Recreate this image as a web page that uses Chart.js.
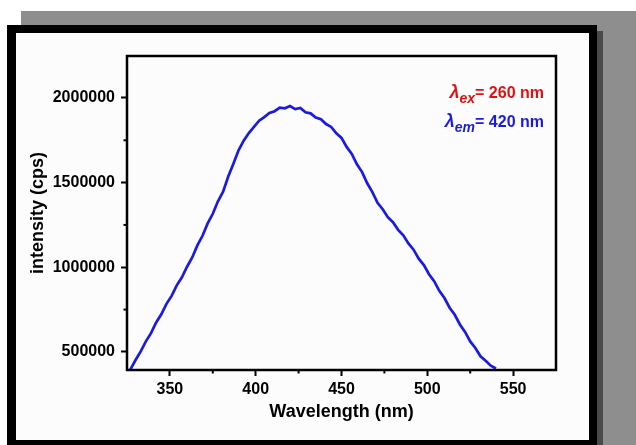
<!DOCTYPE html>
<html>
<head>
<meta charset="utf-8">
<script src="https://cdn.jsdelivr.net/npm/chart.js@4.4.1/dist/chart.umd.min.js"></script>
<style>
  body { margin: 0; background: #fff; }
  #wrap { position: relative; width: 636px; height: 445px; overflow: hidden; }
  .bg { position: absolute; left: 21px; top: 11px; width: 615px; height: 434px; background: #8e8e8e; }
  .shadow { position: absolute; left: 597px; top: 31px; width: 6px; height: 414px; background: #4a4a4a; }
  .frame { position: absolute; left: 7px; top: 25px; width: 573px; height: 407px; border: 8px solid #000; border-left-width: 9px; border-top-width: 8px; background: #fcfcfc; }
  canvas { position: absolute; left: 0; top: 0; }
</style>
</head>
<body>
<div id="wrap">
  <div class="bg"></div>
  <div class="shadow"></div>
  <div class="frame"></div>
  <canvas id="chart" width="636" height="445"></canvas>
</div>
<script>
// emission spectrum
const wavelengths = [327, 330, 333, 336, 339, 342, 345, 348, 351, 354, 357, 360,
    363, 366, 369, 372, 375, 378, 381, 384, 387, 390, 393, 396, 399, 402, 405, 408,
    411, 414, 417, 420, 423, 426, 429, 432, 435, 438, 441, 444, 447, 450, 453, 456,
    459, 462, 465, 468, 471, 474, 477, 480, 483, 486, 489, 492, 495, 498, 501, 504,
    507, 510, 513, 516, 519, 522, 525, 528, 531, 534, 537, 540];
const intensity = [397000, 452000, 503000, 562000, 611000, 674000, 722000, 784000, 831000, 893000, 941000, 1003000,
    1058000, 1129000, 1186000, 1259000, 1316000, 1390000, 1446000, 1536000, 1612000, 1691000, 1748000, 1793000,
    1829000, 1866000, 1887000, 1911000, 1922000, 1943000, 1939000, 1952000, 1934000, 1941000, 1915000, 1909000,
    1884000, 1874000, 1846000, 1829000, 1791000, 1764000, 1711000, 1669000, 1608000, 1562000, 1496000, 1444000,
    1381000, 1343000, 1296000, 1266000, 1221000, 1189000, 1141000, 1104000, 1051000, 1013000, 959000, 918000,
    861000, 818000, 761000, 719000, 662000, 618000, 562000, 523000, 474000, 448000, 418000, 402000];

const xTicks = [350, 400, 450, 500, 550];
const xMinor = [375, 425, 475, 525];
const yTicks = [500000, 1000000, 1500000, 2000000];
const yMinor = [750000, 1250000, 1750000];

const fontFamily = '"Liberation Sans", Arial, sans-serif';

const points = wavelengths.map(function(w, i) { return {x: w, y: intensity[i]}; });

// frame around the plot, minor ticks and the two lambda labels
const extras = {
    id: 'extras',
    afterDraw: function(chart) {
        const ctx = chart.ctx;
        const a = chart.chartArea;
        const xs = chart.scales.x;
        const ys = chart.scales.y;
        ctx.save();
        ctx.strokeStyle = '#000';
        ctx.lineWidth = 2.5;
        ctx.strokeRect(a.left, a.top, a.right - a.left, a.bottom - a.top);

        ctx.lineWidth = 2;
        xMinor.forEach(function(v) {
            const px = xs.getPixelForValue(v);
            ctx.beginPath();
            ctx.moveTo(px, a.bottom);
            ctx.lineTo(px, a.bottom + 3.5);
            ctx.stroke();
        });
        yMinor.forEach(function(v) {
            const py = ys.getPixelForValue(v);
            ctx.beginPath();
            ctx.moveTo(a.left, py);
            ctx.lineTo(a.left - 3.5, py);
            ctx.stroke();
        });

        drawLambda(ctx, 'ex', '= 260 nm', '#e01010', 544, 98);
        drawLambda(ctx, 'em', '= 420 nm', '#1a1ae0', 544, 127);
        ctx.restore();
    }
};

function drawLambda(ctx, sub, rest, color, right, base) {
    const f1 = 'italic bold 18px ' + fontFamily;
    const f2 = 'italic bold 14px ' + fontFamily;
    const f3 = 'bold 16px ' + fontFamily;
    ctx.font = f1; const w1 = ctx.measureText('\u03bb').width;
    ctx.font = f2; const w2 = ctx.measureText(sub).width;
    ctx.font = f3; const w3 = ctx.measureText(rest).width;
    let x = right - (w1 + w2 + w3);
    ctx.fillStyle = color;
    ctx.textBaseline = 'alphabetic';
    ctx.textAlign = 'left';
    ctx.font = f1; ctx.fillText('\u03bb', x, base); x += w1;
    ctx.font = f2; ctx.fillText(sub, x, base + 5); x += w2;
    ctx.font = f3; ctx.fillText(rest, x, base);
}

new Chart(document.getElementById('chart'), {
    type: 'line',
    data: {
        datasets: [{
            data: points,
            borderColor: '#1a1ae6',
            borderWidth: 2.7,
            pointRadius: 0,
            tension: 0,
            fill: false
        }]
    },
    options: {
        responsive: false,
        animation: false,
        events: [],
        layout: { padding: { left: 0, top: 56, right: 80, bottom: 0 } },
        plugins: { legend: { display: false }, tooltip: { enabled: false } },
        scales: {
            x: {
                type: 'linear',
                min: 325,
                max: 575,
                afterBuildTicks: function(scale) { scale.ticks = xTicks.map(function(v) { return {value: v}; }); },
                afterFit: function(scale) { scale.height = 75; },
                border: { display: false },
                grid: { drawOnChartArea: false, drawTicks: true, tickLength: 6, tickColor: '#000', tickWidth: 2 },
                ticks: { color: '#000', padding: 4, font: { family: fontFamily, size: 16, weight: 'bold' } },
                title: {
                    display: true,
                    text: 'Wavelength (nm)',
                    color: '#000',
                    padding: { bottom: 22 },
                    font: { family: fontFamily, size: 18, weight: 'bold' }
                }
            },
            y: {
                type: 'linear',
                min: 393000,
                max: 2248000,
                afterBuildTicks: function(scale) { scale.ticks = yTicks.map(function(v) { return {value: v}; }); },
                afterFit: function(scale) { scale.width = 127; },
                border: { display: false },
                grid: { drawOnChartArea: false, drawTicks: true, tickLength: 6, tickColor: '#000', tickWidth: 2 },
                ticks: {
                    color: '#000',
                    padding: 6,
                    font: { family: fontFamily, size: 16, weight: 'bold' },
                    callback: function(v) { return String(v); }
                },
                title: {
                    display: true,
                    text: 'intensity (cps)',
                    color: '#000',
                    padding: { top: 27 },
                    font: { family: fontFamily, size: 18, weight: 'bold' }
                }
            }
        }
    },
    plugins: [extras]
});
</script>
</body>
</html>
